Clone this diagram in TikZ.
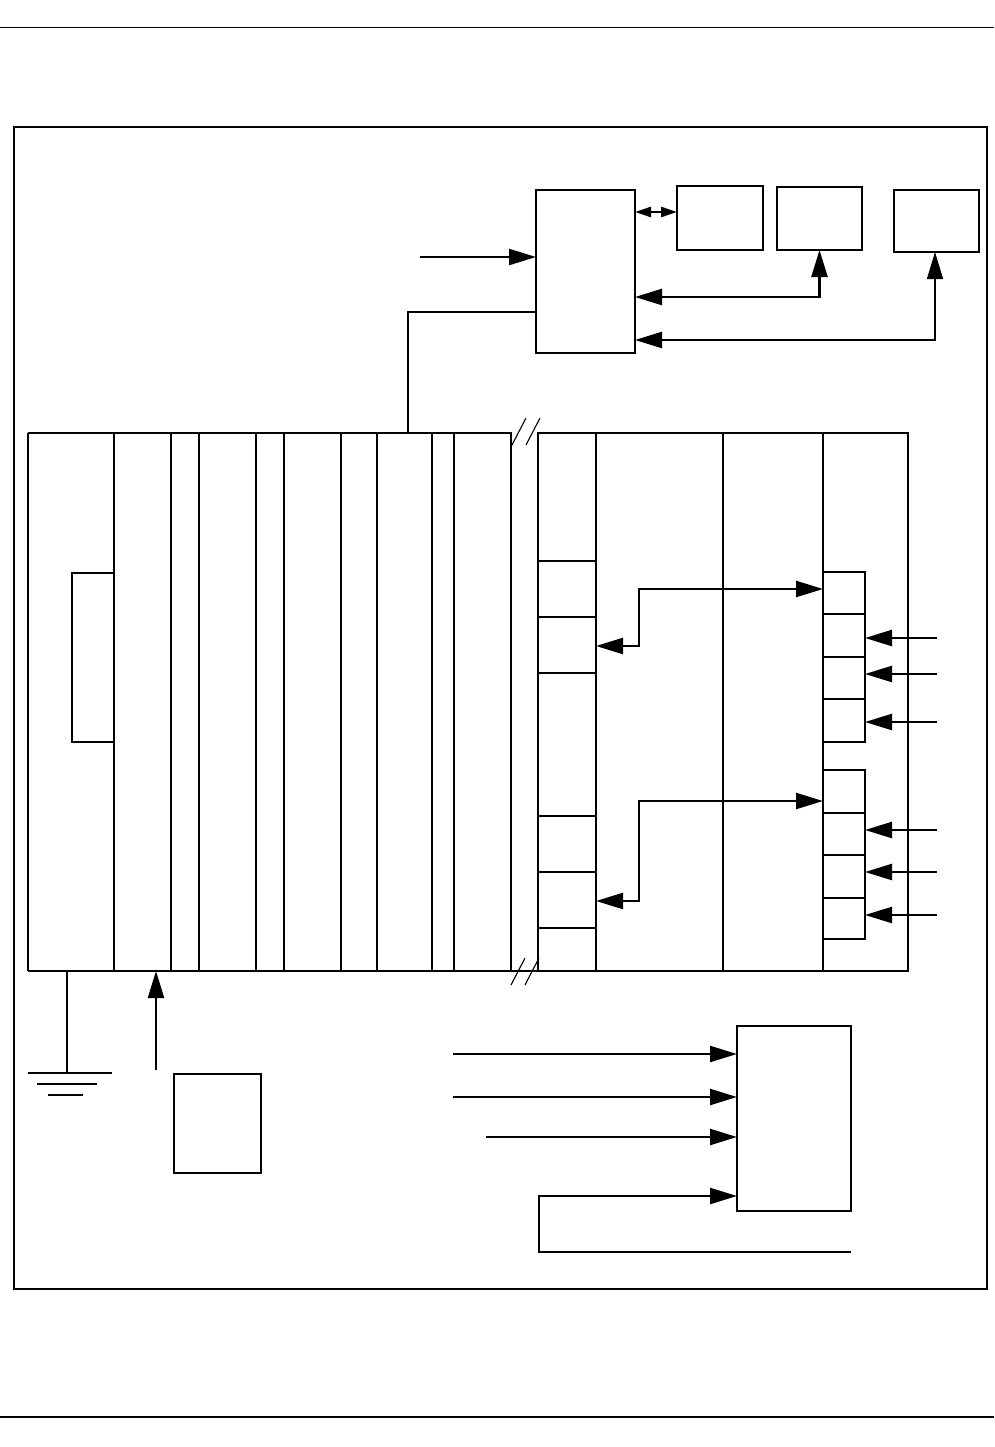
\documentclass[tikz,border=0pt]{standalone}
\usetikzlibrary{arrows.meta,calc}
\newcommand\mybox[5]{\node[box,minimum width={(#4-#2)*1pt},minimum height={(#5-#3)*1pt}] (#1) at (#2,#3) {};}
\begin{document}
\begin{tikzpicture}[x=1pt,y=-1pt,
  thk/.style={line width=2.4pt},
  thn/.style={line width=1.1pt},
  box/.style={draw,line width=2.4pt,rectangle,inner sep=0pt,outer sep=0pt,anchor=north west},
  big/.style={thk,-{Triangle[length=27pt,width=16pt]}},
  bigboth/.style={thk,{Triangle[length=27pt,width=16pt]}-{Triangle[length=27pt,width=16pt]}},
  smallboth/.style={thk,{Triangle[length=16pt,width=10pt]}-{Triangle[length=16pt,width=10pt]}}
]
\useasboundingbox (0,0) rectangle (994,1447);
% page rules and frame
\draw[line width=1pt] (0,28) -- (994,28);
\draw[line width=1.3pt] (0,1417) -- (994,1417);
\draw[line width=1.2pt] (14,127) rectangle (987,1289);

% top boxes
\mybox{A}{536}{190}{635}{353}
\mybox{B}{677}{186}{763}{250}
\mybox{C}{777}{187}{862}{250}
\mybox{D}{894}{190}{979}{252}

\coordinate (ain) at (420,257);
\draw[big] (ain) -- (A.west |- ain);
\draw[smallboth] (A.east |- 0,212) -- (B.west |- 0,212);
\draw[bigboth] (A.east |- 0,297) -| (C.south);
\coordinate (dc) at (935,340);
\draw[thn,-{Triangle[length=27pt,width=16pt]}] (dc) -- (dc |- D.south);
\draw[thk,-{Triangle[length=27pt,width=16pt]}] ([xshift=0.6pt]dc) -- (A.east |- dc);
\draw[thn] (A.west |- 0,312) -- (408,312) -- (408,433);

% main block, left part
\draw[thn] (28,433) -- (511,433);
\draw[thk] (28,433) -- (28,971);
\mybox{c1}{114}{433}{171}{971}
\mybox{c2}{199}{433}{256}{971}
\mybox{c3}{284}{433}{341}{971}
\mybox{c4}{377}{433}{432}{971}
\mybox{c5}{454}{433}{511}{971}
\mybox{ib}{72}{573}{114}{742}
\draw[thk] (28,971) -- (908,971);

% main block, right part
\mybox{rb}{538}{433}{908}{971}
\draw[thk] (596,433) -- (596,971);
\draw[thk] (723,433) -- (723,971);
\draw[thk] (823,433) -- (823,971);
\mybox{ca}{538}{561}{596}{617}
\mybox{cb}{538}{617}{596}{673}
\mybox{cc}{538}{816}{596}{872}
\mybox{cd}{538}{872}{596}{928}

% break marks
\draw[thn] (512,445) -- (526,418);
\draw[thn] (526,445) -- (540,418);
\draw[thn] (511,985) -- (525,958);
\draw[thn] (525,985) -- (539,958);

% small boxes
\mybox{s1}{823}{572}{865}{614}
\mybox{s2}{823}{614}{865}{657}
\mybox{s3}{823}{657}{865}{699}
\mybox{s4}{823}{699}{865}{742}
\mybox{s5}{823}{770}{865}{813}
\mybox{s6}{823}{813}{865}{855}
\mybox{s7}{823}{855}{865}{898}
\mybox{s8}{823}{898}{865}{939}

\foreach \yy in {638,674,722,830,872,915} {
  \draw[big] (937,\yy) -- (865,\yy);
}

\draw[bigboth] (cb.east |- 0,646) -- (639,646) -- (639,589) -- (s1.west |- 0,589);
\draw[bigboth] (cd.east |- 0,901) -- (639,901) -- (639,801) -- (s5.west |- 0,801);

% ground
\draw[thk] (67,971) -- (67,1073);
\draw[thk] (28,1073) -- (112,1073);
\draw[thk] (37,1084) -- (97,1084);
\draw[thk] (48,1095) -- (83,1095);

% up arrow and box F
\coordinate (upst) at (156,1070);
\draw[big] (upst) -- (c1.south -| upst);
\mybox{F}{174}{1074}{261}{1173}

% bottom right box
\mybox{E}{737}{1026}{851}{1211}
\draw[big] (453,1054) -- (E.west |- 0,1054);
\draw[big] (453,1097) -- (E.west |- 0,1097);
\draw[big] (486,1137) -- (E.west |- 0,1137);
\draw[big] (851,1252) -- (539,1252) -- (539,1196) -- (E.west |- 0,1196);
\end{tikzpicture}
\end{document}
